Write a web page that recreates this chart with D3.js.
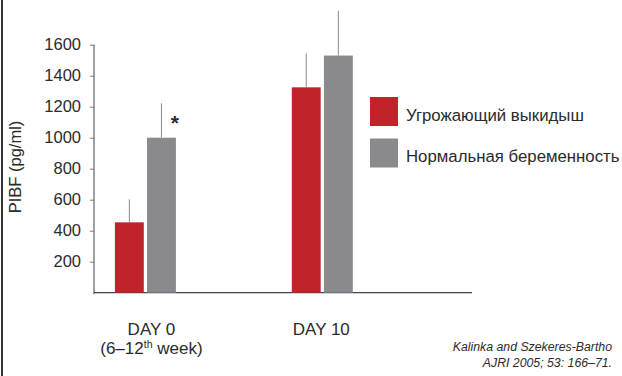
<!DOCTYPE html>
<html>
<head>
<meta charset="utf-8">
<script src="https://cdn.jsdelivr.net/npm/d3@7"></script>
<style>
  html, body { margin: 0; padding: 0; background: #fff; }
  svg { display: block; font-family: "Liberation Sans", Arial, Helvetica, sans-serif; }
</style>
</head>
<body>
<svg id="chart" width="622" height="376"></svg>
<script>
// PIBF levels (pg/ml) at two time points, two patient groups
const categories = ["DAY 0", "DAY 10"];
const seriesNames = ["Угрожающий выкидыш", "Нормальная беременность"];
const threatened = [454, 1325];
const normal = [1000, 1530];
const threatenedErrTop = [602, 1545];
const normalErrTop = [1222, 1819];
const yTicks = [200, 400, 600, 800, 1000, 1200, 1400, 1600];
const colors = ["#c1232b", "#8a8a8e"];

const svg = d3.select("#chart");
const textColor = "#2b2b2b";

// left frame edge
svg.append("line")
  .attr("x1", 2).attr("x2", 2).attr("y1", 0).attr("y2", 376)
  .attr("stroke", "#333").attr("stroke-width", 2);

const y = d3.scaleLinear().domain([0, 1600]).range([292.7, 44.7]);
const x = d3.scalePoint().domain(categories).range([145.4, 322.3]);
const sub = d3.scaleBand().domain(seriesNames).range([-30.5, 30.5]).paddingInner(0.1);

// y axis
const yAxis = svg.append("g")
  .attr("transform", "translate(94,0)")
  .call(d3.axisLeft(y).tickValues(yTicks).tickFormat(d3.format("d"))
    .tickSize(4).tickPadding(9).tickSizeOuter(0));
yAxis.select(".domain").attr("stroke", "#444").attr("d", `M0,${y(1600)}V${y(0) + 1.5}`);
yAxis.selectAll(".tick line").attr("stroke", "#777");
yAxis.selectAll(".tick text")
  .attr("fill", textColor)
  .style("font-size", "16.5px")
  .style("font-family", "Liberation Sans, Arial, sans-serif");

// x axis baseline
svg.append("line")
  .attr("x1", 94).attr("x2", 472)
  .attr("y1", y(0)).attr("y2", y(0))
  .attr("stroke", "#444").attr("stroke-width", 1.2);

// y axis title
svg.append("text")
  .attr("transform", `translate(21,167) rotate(-90)`)
  .attr("text-anchor", "middle")
  .attr("fill", textColor)
  .style("font-size", "16.5px")
  .text("PIBF (pg/ml)");

// bars
const rows = categories.map((c, i) => ({
  cat: c,
  vals: [
    { name: seriesNames[0], v: threatened[i], top: threatenedErrTop[i], color: colors[0] },
    { name: seriesNames[1], v: normal[i], top: normalErrTop[i], color: colors[1] }
  ]
}));

const groups = svg.selectAll("g.grp").data(rows).enter().append("g")
  .attr("class", "grp")
  .attr("transform", d => `translate(${x(d.cat)},0)`);

// error whiskers (drawn first so the bar covers the lower part)
groups.selectAll("line.err").data(d => d.vals).enter().append("line")
  .attr("class", "err")
  .attr("x1", d => sub(d.name) + sub.bandwidth() / 2)
  .attr("x2", d => sub(d.name) + sub.bandwidth() / 2)
  .attr("y1", d => y(d.v))
  .attr("y2", d => y(d.top))
  .attr("stroke", "#8c8c8c").attr("stroke-width", 1);

groups.selectAll("rect").data(d => d.vals).enter().append("rect")
  .attr("x", d => sub(d.name))
  .attr("width", sub.bandwidth())
  .attr("y", d => y(d.v))
  .attr("height", d => y(0) - y(d.v))
  .attr("fill", d => d.color);

// significance marker on DAY 0
svg.append("text")
  .attr("x", x(categories[0]) + sub(seriesNames[1]) + sub.bandwidth() - 1)
  .attr("y", y(normalErrTop[0]) + 27)
  .attr("text-anchor", "middle")
  .attr("fill", textColor)
  .style("font-size", "21px")
  .style("font-weight", "bold")
  .text("*");

// category labels
const lab0 = svg.append("text")
  .attr("x", x(categories[0]) + 6).attr("y", 335)
  .attr("text-anchor", "middle").attr("fill", textColor)
  .style("font-size", "17px");
lab0.append("tspan").text(categories[0]);
const sub0 = svg.append("text")
  .attr("x", x(categories[0]) + 6).attr("y", 354)
  .attr("text-anchor", "middle").attr("fill", textColor)
  .style("font-size", "17px");
sub0.append("tspan").text("(6–12");
sub0.append("tspan").attr("dy", -6).style("font-size", "10.5px").text("th");
sub0.append("tspan").attr("dy", 6).text(" week)");

svg.append("text")
  .attr("x", x(categories[1]) - 1).attr("y", 335)
  .attr("text-anchor", "middle").attr("fill", textColor)
  .style("font-size", "17px")
  .text(categories[1]);

// legend
const legend = svg.append("g").attr("transform", "translate(370,97)");
const li = legend.selectAll("g").data(seriesNames).enter().append("g")
  .attr("transform", (d, i) => `translate(0,${i * 41.5})`);
li.append("rect").attr("width", 28).attr("height", 29)
  .attr("fill", (d, i) => colors[i]);
li.append("text")
  .attr("x", 36).attr("y", 18).attr("dy", "0.35em")
  .attr("fill", textColor)
  .style("font-size", "16.8px")
  .text(d => d);

// source note
const note = svg.append("text")
  .attr("text-anchor", "end").attr("fill", textColor)
  .style("font-size", "12.3px").style("font-style", "italic");
note.append("tspan").attr("x", 612).attr("y", 351).text("Kalinka and Szekeres-Bartho");
note.append("tspan").attr("x", 612).attr("y", 367).text("AJRI 2005; 53: 166–71.");
</script>
</body>
</html>
